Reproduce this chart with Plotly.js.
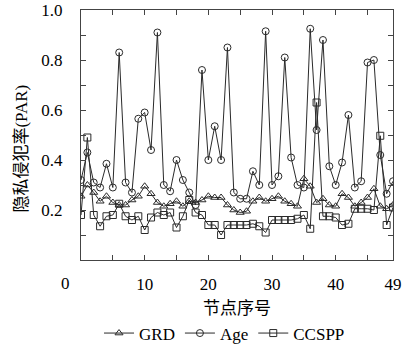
<!DOCTYPE html>
<html>
<head>
<meta charset="utf-8">
<script src="https://cdn.plot.ly/plotly-3.0.1.min.js"></script>
<style>html,body{margin:0;padding:0;background:#fff;}#chart{width:406px;height:345px;}</style>
</head>
<body>
<div id="chart"></div>
<script>
// node index 0..49
const nodeIndex = [0,1,2,3,4,5,6,7,8,9,10,11,12,13,14,15,16,17,18,19,20,21,22,23,24,25,26,27,28,29,30,31,32,33,34,35,36,37,38,39,40,41,42,43,44,45,46,47,48,49];
const grd = [0.255,0.30,0.27,0.235,0.255,0.23,0.22,0.22,0.24,0.255,0.295,0.265,0.23,0.215,0.225,0.235,0.215,0.235,0.23,0.24,0.255,0.25,0.25,0.22,0.20,0.19,0.195,0.235,0.25,0.235,0.245,0.255,0.235,0.225,0.215,0.325,0.295,0.23,0.245,0.22,0.215,0.265,0.25,0.215,0.23,0.25,0.285,0.215,0.205,0.22];
const age = [0.32,0.43,0.31,0.29,0.385,0.29,0.83,0.31,0.27,0.565,0.59,0.44,0.91,0.30,0.275,0.40,0.32,0.27,0.22,0.76,0.40,0.535,0.40,0.85,0.27,0.245,0.245,0.355,0.30,0.915,0.30,0.335,0.81,0.41,0.30,0.29,0.925,0.52,0.88,0.375,0.30,0.39,0.58,0.29,0.315,0.79,0.80,0.42,0.265,0.315];
const ccspp = [0.18,0.49,0.18,0.135,0.175,0.18,0.225,0.175,0.16,0.175,0.12,0.17,0.19,0.18,0.19,0.13,0.175,0.24,0.19,0.18,0.14,0.14,0.10,0.14,0.14,0.14,0.14,0.145,0.135,0.11,0.16,0.16,0.16,0.16,0.165,0.18,0.125,0.63,0.175,0.175,0.17,0.14,0.145,0.205,0.205,0.205,0.20,0.497,0.14,0.21];
const seriesNames = ['GRD','Age','CCSPP'];
const xTickVals = [10,20,30,40,49];
const xTickText = ['10','20','30','40','49'];
const yTickVals = [0.2,0.4,0.6,0.8,1.0];
const yTickText = ['0.2','0.4','0.6','0.8','1.0'];

const lineColor = '#2a2a2a';
function tr(y, name, sym){
  return {x: nodeIndex, y: y, name: name, type:'scatter', mode:'lines+markers',
    line:{color:lineColor, width:1},
    marker:{symbol:sym, size:7, color:lineColor, line:{width:1, color:lineColor}}};
}
const data = [tr(grd, seriesNames[0], 'triangle-up-open'), tr(age, seriesNames[1], 'circle-open'), tr(ccspp, seriesNames[2], 'square-open')];
const serif = 'Liberation Serif, DejaVu Serif, serif';
const cjk = 'Noto Sans CJK SC';
const layout = {
  width:406, height:345,
  margin:{l:81, r:13, t:10, b:85, autoexpand:false},
  paper_bgcolor:'#fff', plot_bgcolor:'#fff',
  font:{family:serif, size:16, color:'#000'},
  showlegend:true,
  legend:{orientation:'h', x:0.46, xanchor:'center', y:-0.366, yanchor:'bottom', font:{family:serif, size:17}, itemwidth:30, tracegroupgap:0, bgcolor:'rgba(0,0,0,0)'},
  xaxis:{range:[0,49], showgrid:false, zeroline:false, showline:true, mirror:'ticks', linecolor:'#444', linewidth:1,
    tickvals:xTickVals, ticktext:xTickText, ticks:'inside', ticklen:5, tickcolor:'#444', ticklabelstandoff:9,
    minor:{dtick:5, tick0:0, ticks:'inside', ticklen:5, tickcolor:'#444'},
    tickfont:{family:serif, size:17},
    title:{text:'节点序号', font:{family:cjk, size:17}, standoff:5}, automargin:false},
  yaxis:{range:[0,1], showgrid:false, zeroline:false, showline:true, mirror:'ticks', linecolor:'#444', linewidth:1,
    tickvals:yTickVals, ticktext:yTickText, ticks:'inside', ticklen:5, tickcolor:'#444', ticklabelstandoff:14,
    minor:{dtick:0.1, tick0:0, ticks:'inside', ticklen:5, tickcolor:'#444'},
    tickfont:{family:serif, size:17}, automargin:false},
  annotations:[
    {text:'0', xref:'x', yref:'paper', x:0, y:0, xshift:-16, yshift:-23, showarrow:false, xanchor:'center', yanchor:'middle', font:{family:serif, size:17}},
    {text:'隐私侵犯率<span style="font-family:Liberation Serif">(PAR)</span>', xref:'paper', yref:'paper', x:-0.196, y:0.445, textangle:-90, showarrow:false, xanchor:'center', yanchor:'middle', font:{family:cjk, size:17}}
  ]
};
Plotly.newPlot('chart', data, layout, {displayModeBar:false, staticPlot:true});
</script>
</body>
</html>
